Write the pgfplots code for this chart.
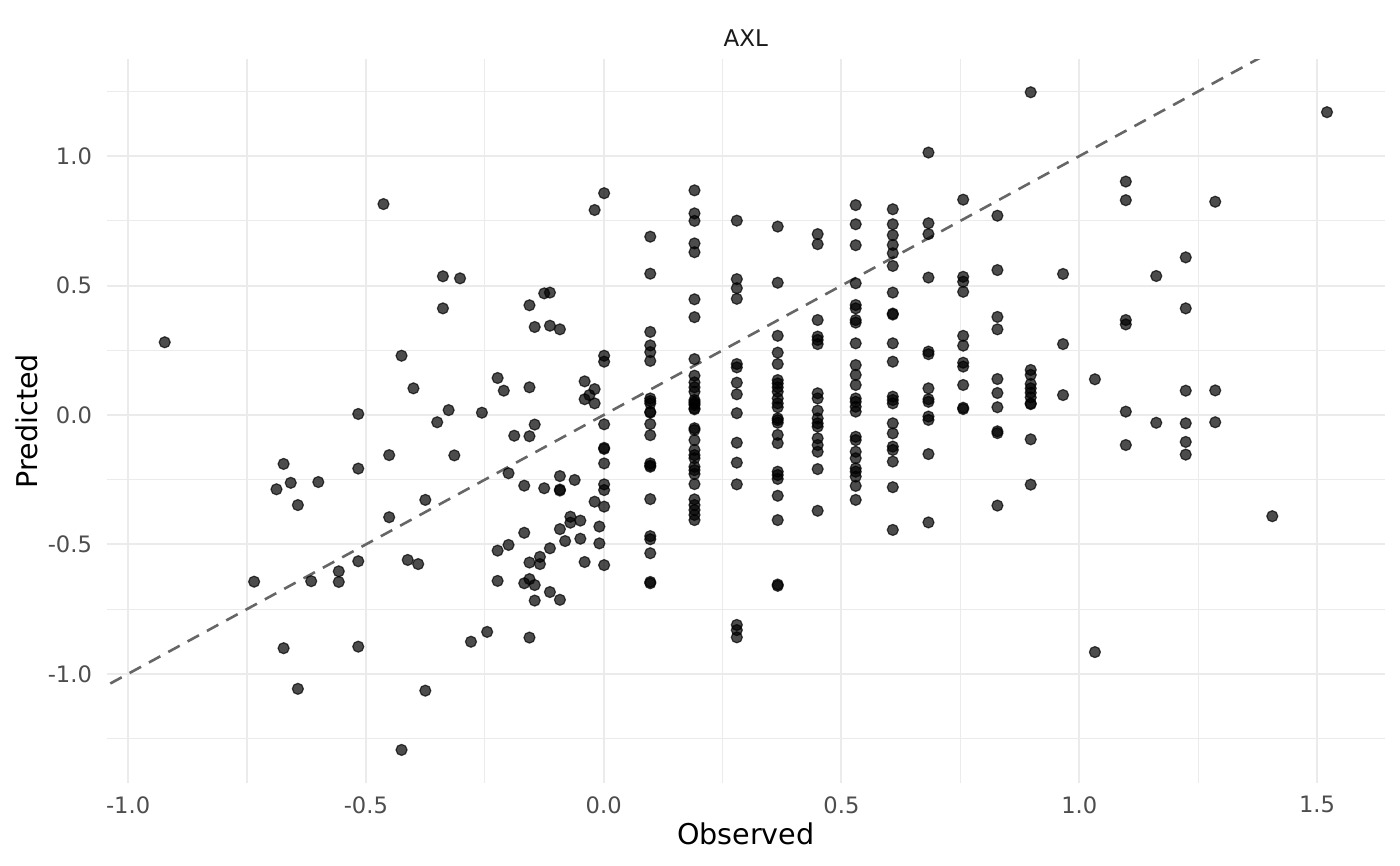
\documentclass[border=0pt]{standalone}
\usepackage{pgfplots}
\pgfplotsset{compat=1.18}
\usepackage{pgfplotstable}
\usepackage{fontspec}
\setmainfont{DejaVu Sans}
\definecolor{gridc}{HTML}{EBEBEB}
\definecolor{tickc}{HTML}{4D4D4D}
\definecolor{stripc}{HTML}{1A1A1A}
\definecolor{linec}{HTML}{666666}

\pgfplotstableread{
x y
-0.923 0.281
-0.463 0.815
-0.425 0.229
-0.400 0.103
-0.516 0.004
-0.451 -0.155
-0.673 -0.189
-0.658 -0.262
-0.688 -0.287
-0.600 -0.259
-0.643 -0.348
-0.516 -0.207
-0.451 -0.395
-0.412 -0.560
-0.390 -0.576
-0.735 -0.644
-0.615 -0.642
-0.557 -0.604
-0.557 -0.645
-0.516 -0.565
-0.673 -0.901
-0.516 -0.895
-0.643 -1.058
-0.425 -1.294
-0.375 -1.065
-0.375 -0.328
-0.350 -0.028
-0.326 0.019
-0.314 -0.156
-0.338 0.536
-0.302 0.528
-0.338 0.412
-0.256 0.009
-0.279 -0.876
-0.245 -0.838
-0.223 0.143
-0.210 0.094
-0.223 -0.524
-0.223 -0.641
-0.200 -0.225
-0.200 -0.502
-0.188 -0.080
-0.167 -0.273
-0.167 -0.455
-0.167 -0.650
-0.156 0.424
-0.156 0.107
-0.156 -0.082
-0.156 -0.570
-0.156 -0.634
-0.156 -0.860
-0.145 0.340
-0.145 -0.037
-0.145 -0.657
-0.145 -0.717
-0.134 -0.548
-0.134 -0.576
-0.125 0.470
-0.125 -0.283
-0.113 0.473
-0.113 0.345
-0.113 -0.515
-0.113 -0.684
-0.092 0.331
-0.092 -0.236
-0.092 -0.288
-0.092 -0.292
-0.092 -0.441
-0.092 -0.714
-0.081 -0.487
-0.070 -0.393
-0.070 -0.416
-0.061 -0.251
-0.049 -0.408
-0.049 -0.478
-0.040 0.130
-0.040 0.061
-0.040 -0.568
-0.030 0.077
-0.019 0.792
-0.019 0.100
-0.019 0.045
-0.019 -0.335
-0.009 -0.431
-0.009 -0.496
0.001 0.857
0.001 0.229
0.001 0.206
0.001 -0.036
0.001 -0.127
0.001 -0.131
0.001 -0.187
0.001 -0.268
0.001 -0.290
0.001 -0.354
0.001 -0.580
0.098 0.689
0.098 0.546
0.098 0.321
0.098 0.269
0.098 0.243
0.098 0.209
0.098 0.064
0.098 0.054
0.098 0.045
0.098 0.012
0.098 0.009
0.098 -0.035
0.098 -0.078
0.098 -0.187
0.098 -0.195
0.098 -0.200
0.098 -0.325
0.098 -0.468
0.098 -0.480
0.098 -0.534
0.098 -0.645
0.098 -0.650
0.191 0.868
0.191 0.779
0.191 0.750
0.191 0.663
0.191 0.629
0.191 0.447
0.191 0.378
0.191 0.216
0.191 0.152
0.191 0.126
0.191 0.107
0.191 0.090
0.191 0.058
0.191 0.051
0.191 0.045
0.191 0.039
0.191 0.026
0.191 0.022
0.191 -0.051
0.191 -0.058
0.191 -0.097
0.191 -0.135
0.191 -0.155
0.191 -0.167
0.191 -0.200
0.191 -0.213
0.191 -0.228
0.191 -0.267
0.191 -0.326
0.191 -0.348
0.191 -0.367
0.191 -0.386
0.191 -0.406
0.280 0.751
0.280 0.525
0.280 0.490
0.280 0.449
0.280 0.197
0.280 0.184
0.280 0.125
0.280 0.080
0.280 0.007
0.280 -0.107
0.280 -0.184
0.280 -0.268
0.280 -0.811
0.280 -0.831
0.280 -0.859
0.366 0.728
0.366 0.511
0.366 0.306
0.366 0.241
0.366 0.197
0.366 0.135
0.366 0.122
0.366 0.107
0.366 0.090
0.366 0.064
0.366 0.045
0.366 0.030
0.366 -0.013
0.366 -0.020
0.366 -0.030
0.366 -0.077
0.366 -0.109
0.366 -0.219
0.366 -0.232
0.366 -0.247
0.366 -0.312
0.366 -0.406
0.366 -0.655
0.366 -0.660
0.450 0.699
0.450 0.660
0.450 0.367
0.450 0.303
0.450 0.290
0.450 0.274
0.450 0.084
0.450 0.064
0.450 0.017
0.450 -0.013
0.450 -0.032
0.450 -0.045
0.450 -0.090
0.450 -0.116
0.450 -0.142
0.450 -0.209
0.450 -0.370
0.530 0.811
0.530 0.737
0.530 0.656
0.530 0.509
0.530 0.425
0.530 0.412
0.530 0.367
0.530 0.357
0.530 0.277
0.530 0.193
0.530 0.155
0.530 0.116
0.530 0.064
0.530 0.051
0.530 0.032
0.530 0.013
0.530 -0.084
0.530 -0.097
0.530 -0.142
0.530 -0.167
0.530 -0.206
0.530 -0.219
0.530 -0.238
0.530 -0.274
0.530 -0.328
0.608 0.795
0.608 0.737
0.608 0.695
0.608 0.657
0.608 0.625
0.608 0.576
0.608 0.473
0.608 0.392
0.608 0.388
0.608 0.277
0.608 0.206
0.608 0.071
0.608 0.058
0.608 0.045
0.608 -0.032
0.608 -0.071
0.608 -0.122
0.608 -0.135
0.608 -0.180
0.608 -0.279
0.608 -0.444
0.683 1.014
0.683 0.741
0.683 0.699
0.683 0.531
0.683 0.245
0.683 0.235
0.683 0.103
0.683 0.061
0.683 0.051
0.683 -0.006
0.683 -0.019
0.683 -0.151
0.683 -0.415
0.756 0.832
0.756 0.534
0.756 0.515
0.756 0.476
0.756 0.306
0.756 0.268
0.756 0.202
0.756 0.187
0.756 0.116
0.756 0.028
0.756 0.023
0.828 0.770
0.828 0.560
0.828 0.379
0.828 0.331
0.828 0.139
0.828 0.085
0.828 0.030
0.828 -0.063
0.828 -0.070
0.828 -0.350
0.898 1.247
0.898 0.174
0.898 0.155
0.898 0.120
0.898 0.103
0.898 0.086
0.898 0.068
0.898 0.045
0.898 0.042
0.898 -0.094
0.898 -0.269
0.966 0.545
0.966 0.274
0.966 0.077
1.033 0.138
1.033 -0.916
1.098 0.902
1.098 0.830
1.098 0.367
1.098 0.350
1.098 0.013
1.098 -0.116
1.162 0.537
1.162 -0.030
1.224 0.609
1.224 0.412
1.224 0.094
1.224 -0.032
1.224 -0.104
1.224 -0.153
1.286 0.824
1.286 0.095
1.286 -0.028
1.406 -0.391
1.521 1.170
}\pts

\begin{document}
\begin{tikzpicture}
\begin{axis}[name=ax, scale only axis, width=639.15pt, height=361.7pt,
  xmin=-1.045, xmax=1.643, ymin=-1.421, ymax=1.374,
  axis line style={draw=none}, major tick length=0pt, minor tick length=0pt,
  xtick={-1,-0.5,0,0.5,1,1.5}, xticklabels={-1.0,-0.5,0.0,0.5,1.0,1.5},
  ytick={-1,-0.5,0,0.5,1}, yticklabels={-1.0,-0.5,0.0,0.5,1.0},
  minor xtick={-0.75,-0.25,0.25,0.75,1.25},
  minor ytick={-1.25,-0.75,-0.25,0.25,0.75,1.25},
  grid=both,
  major grid style={gridc, line width=1.05pt},
  minor grid style={gridc, line width=0.6pt},
  tick label style={font=\fontsize{11.3}{12}\selectfont, text=tickc, inner sep=0pt},
  xticklabel style={anchor=north, yshift=-6.6pt},
  yticklabel style={anchor=east, xshift=-7.2pt},
  clip=true,
]
\addplot[only marks, mark=*, mark size=2.75pt,
  mark options={fill=black, draw=black, fill opacity=0.7, draw opacity=0.7, line width=0.6pt}]
  table {\pts};
\addplot[linec, line width=1.3pt, dash pattern=on 6.5pt off 4.5pt]
  coordinates {(-1.2,-1.2) (1.5,1.5)};
\end{axis}
\node[anchor=north, inner sep=0pt, font=\fontsize{14.3}{15}\selectfont] at ([yshift=-20pt]ax.south) {Observed};
\node[anchor=south, rotate=90, inner sep=0pt, font=\fontsize{14.3}{15}\selectfont] at ([xshift=-34.4pt]ax.west) {Predicted};
\node[anchor=base, inner sep=0pt, font=\fontsize{11.5}{12}\selectfont, text=stripc] at ([yshift=6.5pt]ax.north) {AXL};
\pgfresetboundingbox
\path ([shift={(-53.35pt,-41.6pt)}]ax.south west) rectangle ([shift={(7.5pt,29.7pt)}]ax.north east);
\end{tikzpicture}
\end{document}
